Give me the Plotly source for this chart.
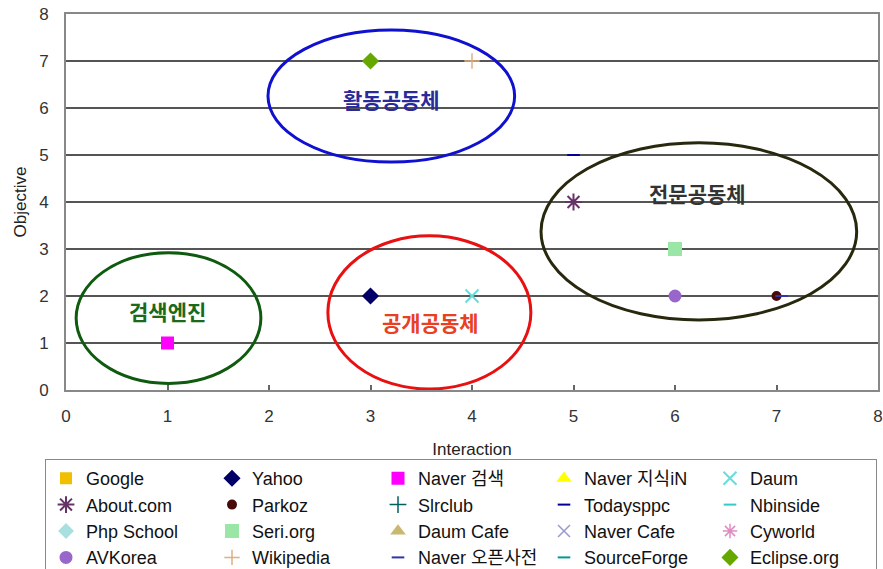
import plotly.graph_objects as go

# ---- data ----
sites = ["Google", "Yahoo", "Naver 검색", "Naver 지식iN", "Daum",
         "About.com", "Parkoz", "Slrclub", "Todaysppc", "Nbinside",
         "Php School", "Seri.org", "Daum Cafe", "Naver Cafe", "Cyworld",
         "AVKorea", "Wikipedia", "Naver 오픈사전", "SourceForge", "Eclipse.org"]
interaction = [None, 3, 1, None, 4,
               5, 7, None, 5, None,
               None, 6, None, None, None,
               6, 4, 7.05, None, 3]
objective = [None, 2, 1, None, 2,
             4, 2, None, 5, None,
             None, 3, None, None, None,
             2, 7, 2, None, 7]

x_ticks = [0, 1, 2, 3, 4, 5, 6, 7, 8]
y_ticks = [0, 1, 2, 3, 4, 5, 6, 7, 8]

groups = ["검색엔진", "공개공동체", "활동공동체", "전문공동체"]
group_label_x = [1.0, 3.59, 3.21, 6.22]
group_label_y = [1.68, 1.45, 6.2, 4.2]
group_x0 = [0.10, 2.58, 1.99, 4.68]
group_x1 = [1.92, 4.58, 4.42, 7.79]
group_y0 = [0.14, 0.02, 4.85, 1.49]
group_y1 = [2.92, 3.28, 7.66, 5.26]

# ---- styles ----
colors = ["#F2BE00", "#000066", "#FF00FF", "#FFFF00", "#66DDDD",
          "#663366", "#4A0A0A", "#006060", "#000099", "#33CCCC",
          "#A8E0E0", "#99E6A6", "#C8B870", "#9999CC", "#E08CC0",
          "#9966CC", "#E0B080", "#3333AA", "#009999", "#66A800"]
symbols = ["square", "diamond", "square", "triangle-up", "x-thin-open",
           "asterisk-open", "circle", "cross-thin-open", "line-ew-open", "line-ew-open",
           "diamond", "square", "triangle-up", "x-thin-open", "asterisk-open",
           "circle", "cross-thin-open", "line-ew-open", "line-ew-open", "diamond"]
sizes = [10, 11, 11, 10, 13,
         14, 8, 12, 9, 9,
         10, 12, 10, 12, 12,
         11, 11, 9, 9, 11]
line_widths = [2, 2, 2, 2, 2,
               2, 2, 1.5, 2, 2,
               2, 2, 2, 1.5, 1.5,
               2, 1.5, 2, 2, 2]
group_line = ["#0E5A0E", "#E81010", "#1010D0", "#28280E"]
group_text = ["#1A6A1A", "#E84020", "#2A2A9A", "#333333"]

fig = go.Figure()
for i, name in enumerate(sites):
    fig.add_trace(go.Scatter(
        x=[interaction[i]], y=[objective[i]], mode="markers", name=name,
        marker=dict(symbol=symbols[i], color=colors[i], size=sizes[i],
                    line=dict(color=colors[i], width=line_widths[i])),
        showlegend=True, cliponaxis=False))

for i, g in enumerate(groups):
    fig.add_shape(type="circle", xref="x", yref="y",
                  x0=group_x0[i], x1=group_x1[i], y0=group_y0[i], y1=group_y1[i],
                  line=dict(color=group_line[i], width=3), layer="above")
    fig.add_annotation(x=group_label_x[i], y=group_label_y[i], text=g, showarrow=False,
                       font=dict(family="Noto Sans CJK KR", size=21, color=group_text[i],
                                 weight=600))

font_main = "Liberation Sans, Arial, Noto Sans CJK KR, sans-serif"
fig.update_layout(
    width=883, height=569,
    margin=dict(l=66, r=5, t=14, b=179, autoexpand=False),
    paper_bgcolor="white", plot_bgcolor="white",
    font=dict(family=font_main, size=16, color="#222"),
    xaxis=dict(range=[0, 8], tickvals=x_ticks, showgrid=False, zeroline=False,
               showline=True, linecolor="#888", linewidth=2, mirror=True,
               ticks="inside", ticklen=5, tickcolor="#666", tickwidth=1.5,
               tickfont=dict(size=17, color="#333"), ticklabelstandoff=10,
               title=dict(text="Interaction", font=dict(size=17, color="#222"), standoff=18)),
    yaxis=dict(range=[0, 8], tickvals=y_ticks, showgrid=True, gridcolor="#555",
               gridwidth=2, zeroline=False, showline=True, linecolor="#888",
               linewidth=2, mirror=True, ticks="", tickfont=dict(size=17, color="#333"),
               ticklabelstandoff=12,
               title=dict(text="Objective", font=dict(size=17, color="#222"), standoff=8)),
    legend=dict(orientation="h", x=-21/812, xanchor="left", y=-69/376, yanchor="top",
                bordercolor="#888", borderwidth=1, bgcolor="white",
                font=dict(family=font_main, size=18, color="#111"),
                entrywidth=121, entrywidthmode="pixels", itemwidth=30,
                tracegroupgap=0),
    showlegend=True,
)

fig.write_html("out.html")
